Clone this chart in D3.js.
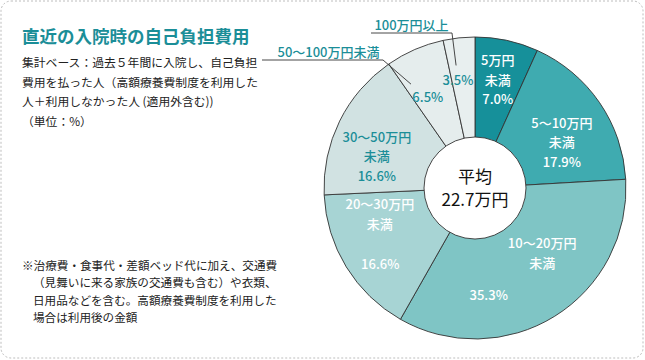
<!DOCTYPE html>
<html><head><meta charset="utf-8">
<script src="https://cdn.jsdelivr.net/npm/d3@7"></script>
<style>
html,body{margin:0;padding:0;background:#fff;}
text{font-family:"Noto Sans CJK JP","Noto Sans",sans-serif;}
</style></head>
<body>
<svg id="chart" width="645" height="360"></svg>
<script>
const categories = ["5万円未満","5～10万円未満","10～20万円未満","20～30万円未満","30～50万円未満","50～100万円未満","100万円以上"];
const values = [7.0, 17.9, 35.3, 16.6, 16.6, 6.5, 3.5];
const sliceColors = ["#16909a","#3fabb0","#7fc5c5","#a7d4d4","#d1e2e2","#e5eded","#e8efef"];
const titleText = "直近の入院時の自己負担費用";
const subLines = ["集計ベース：過去５年間に入院し、自己負担","費用を払った人（高額療養費制度を利用した","人＋利用しなかった人 (適用外含む))","（単位：%）"];
const noteLines = ["※治療費・食事代・差額ベッド代に加え、交通費","（見舞いに来る家族の交通費も含む）や衣類、","日用品などを含む。高額療養費制度を利用した","場合は利用後の金額"];
const centerLines = ["平均","22.7万円"];

const svg = d3.select("#chart");
const teal = "#1b8e98";

// border
svg.append("rect").attr("x",1).attr("y",1).attr("width",642).attr("height",357)
  .attr("rx",10).attr("fill","#fff").attr("stroke","#bdbdbd").attr("stroke-dasharray","2,2");

// title
svg.append("text").attr("x",22).attr("y",43).attr("fill",teal)
  .attr("font-size",17.5).attr("font-weight",700).text(titleText);

svg.append("g").selectAll("text").data(subLines).join("text")
  .attr("x",22).attr("y",(d,i)=>67+i*19.5).attr("font-size",11.8).attr("fill","#222").text(d=>d);

svg.append("g").selectAll("text").data(noteLines).join("text")
  .attr("x",(d,i)=>i===0?22:33).attr("y",(d,i)=>270+i*17.3).attr("font-size",11.6).attr("fill","#222").text(d=>d);

// pie
const cx = 475, cy = 188, R = 151, r0 = 51;
const g = svg.append("g").attr("transform",`translate(${cx},${cy})`);
const pie = d3.pie().sort(null).value(d=>d);
const arcs = pie(values);
const arc = d3.arc().innerRadius(0).outerRadius(R);
g.selectAll("path").data(arcs).join("path")
  .attr("d",arc).attr("fill",(d,i)=>sliceColors[i])
  .attr("stroke","#333").attr("stroke-width",0.9);
g.append("circle").attr("r",r0).attr("fill","#fff").attr("stroke","#333").attr("stroke-width",0.9);

g.selectAll("text.c").data(centerLines).join("text").attr("class","c")
  .attr("x",0).attr("y",(d,i)=>-5+i*23).attr("text-anchor","middle")
  .attr("font-size",17).attr("fill","#111").text(d=>d);

function polar(d,t,rad){
  const a = d.startAngle + t*(d.endAngle-d.startAngle);
  return [rad*Math.sin(a), -rad*Math.cos(a)];
}
// label layout: [slice index, t along arc, radius, lines, color]
const labelLayout = [
  [0,0.49,110,["5万円","未満","7.0%"],"#fff"],
  [1,0.61,98,["5～10万円","未満","17.9%"],"#fff"],
  [2,0.42,101,["10～20万円","未満"],"#fff", -10],
  [2,0.70,108,["35.3%"],"#fff"],
  [3,0.68,102,["20～30万円","未満"],"#fff", -10],
  [3,0.37,122,["16.6%"],"#fff"],
  [4,0.35,103,["30～50万円","未満","16.6%"],teal],
  [5,0.32,102,["6.5%"],teal],
  [6,0.26,109,["3.5%"],teal]
];
labelLayout.forEach(L=>{
  const [i,t,rad,lines,col,off] = L;
  const [x,y] = polar(arcs[i],t,rad);
  const n = lines.length;
  const y0 = y - (n-1)/2*19.5 + (off||0) + 4.5;
  g.append("g").selectAll("text").data(lines).join("text")
    .attr("x",x).attr("y",(d,k)=>y0+k*19.5).attr("text-anchor","middle")
    .attr("font-size",13).attr("font-weight",500).attr("fill",col).text(d=>d);
});

// outside labels with leader lines
const outside = [
  {i:6,t:0.28,rad:124,text:"100万円以上",x1:371,x2:452,y:33,dx:0},
  {i:5,t:0.14,rad:122,text:"50～100万円未満",x1:262,x2:383,y:60,dx:6}
];
outside.forEach(o=>{
  const [px,py] = polar(arcs[o.i],o.t,o.rad);
  svg.append("text").attr("x",(o.x1+o.x2)/2+o.dx).attr("y",o.y-3).attr("text-anchor","middle")
    .attr("font-size",13).attr("font-weight",500).attr("fill",teal).text(o.text);
  svg.append("polyline").attr("points",`${o.x1},${o.y} ${o.x2},${o.y} ${cx+px},${cy+py}`)
    .attr("fill","none").attr("stroke","#333").attr("stroke-width",0.9);
});
</script>
</body></html>
